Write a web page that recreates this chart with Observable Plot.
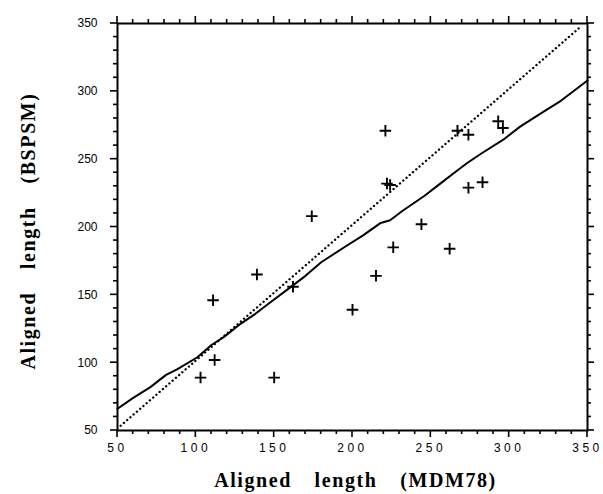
<!DOCTYPE html>
<html><head><meta charset="utf-8">
<script src="https://cdn.jsdelivr.net/npm/d3@7"></script>
<script src="https://cdn.jsdelivr.net/npm/@observablehq/plot@0.6"></script>
<style>body{margin:0;background:#fff}</style>
</head><body><div id="chart"></div>
<script>
// Scatter data: aligned length MDM78 (x) vs BSPSM (y)
const mdm78 = [103, 111, 112, 139, 150, 162, 174, 200, 215, 221, 222, 224, 226, 244, 262, 267, 274, 274, 283, 293, 296];
const bspsm = [89, 146, 102, 165, 89, 156, 208, 139, 164, 271, 232, 231, 185, 202, 184, 271, 268, 229, 233, 278, 273];

// Solid fitted curve
const fitX = [50, 60, 71, 81, 88, 101, 110, 118, 129, 138, 147, 162, 170, 180, 196, 207, 218, 224, 232, 246, 256, 265, 273, 282, 297, 307, 322, 333, 350];
const fitY = [66, 74, 82, 91, 95, 104, 113, 119, 129, 136, 144, 157, 164, 174, 186, 194, 203, 205, 212, 223, 232, 240, 247, 254, 265, 274, 285, 293, 308];

// Dotted diagonal line
const diagX = [52, 346];
const diagY = [53.5, 348];

// Ticks
const majorTicks = [50, 100, 150, 200, 250, 300, 350];
const minorTicks = [60, 70, 80, 90, 110, 120, 130, 140, 160, 170, 180, 190, 210, 220, 230, 240, 260, 270, 280, 290, 310, 320, 330, 340];

const xTitle = ["Aligned length (MDM78)"];
const yTitle = ["Aligned length (BSPSM)"];

const pts = mdm78.map((x, i) => ({x, y: bspsm[i]}));
const fit = fitX.map((x, i) => ({x, y: fitY[i]}));
const diag = diagX.map((x, i) => ({x, y: diagY[i]}));

const serif = "'Liberation Serif', 'Times New Roman', serif";
const MAJ = 7, MIN = 4;

const chart = Plot.plot({
  width: 603,
  height: 494,
  marginLeft: 117,
  marginRight: 16,
  marginTop: 23,
  marginBottom: 64,
  x: {domain: [50, 350]},
  y: {domain: [50, 350]},
  style: {fontFamily: "'Liberation Sans', Arial, sans-serif", fontSize: "12px", color: "#000", background: "#fff"},
  marks: [
    Plot.axisX({anchor: "bottom", ticks: majorTicks, tickSize: 0, tickPadding: 13, label: null, fontSize: 12}),
    Plot.axisY({anchor: "left", ticks: majorTicks, tickSize: 0, tickPadding: 20, label: null, fontSize: 12}),
    Plot.frame({stroke: "#000", strokeWidth: 2}),
    Plot.line(diag, {x: "x", y: "y", stroke: "#000", strokeWidth: 2.3, strokeLinecap: "round", strokeDasharray: "0.1 4.2"}),
    Plot.line(fit, {x: "x", y: "y", stroke: "#000", strokeWidth: 2}),
    Plot.dot(pts, {x: "x", y: "y", symbol: "plus", r: 3.8, stroke: "#000", strokeWidth: 1.9}),
    Plot.text(xTitle, {text: d => d, frameAnchor: "bottom", dy: 56, dx: 3, textAnchor: "middle", lineAnchor: "bottom",
      fontFamily: serif, fontWeight: "bold", fontSize: 20, fill: "#000"}),
    Plot.text(yTitle, {text: d => d, frameAnchor: "left", dx: -83, dy: 4, rotate: -90, textAnchor: "middle", lineAnchor: "bottom",
      fontFamily: serif, fontWeight: "bold", fontSize: 20, fill: "#000"})
  ]
});

const svg = d3.select(chart);
svg.selectAll("text")
  .filter(function () { return xTitle.includes(this.textContent) || yTitle.includes(this.textContent); })
  .style("letter-spacing", "1.6px").style("word-spacing", "16px");
svg.selectAll('g[aria-label="x-axis tick label"] text').style("letter-spacing", "3.5px");

// Outward ticks on all four sides, positioned with Plot's own scales
const sx = chart.scale("x"), sy = chart.scale("y");
const [x0, x1] = sx.range, [y0, y1] = sy.range; // y0 = bottom, y1 = top
const tg = svg.append("g").attr("stroke", "#000").attr("stroke-width", 1.6).attr("fill", "none");
const addTicks = (vals, len) => {
  vals.forEach(v => {
    const px = sx.apply(v), py = sy.apply(v);
    tg.append("line").attr("x1", px).attr("x2", px).attr("y1", y0).attr("y2", y0 + len);
    tg.append("line").attr("x1", px).attr("x2", px).attr("y1", y1).attr("y2", y1 - len);
    tg.append("line").attr("y1", py).attr("y2", py).attr("x1", x0).attr("x2", x0 - len);
    tg.append("line").attr("y1", py).attr("y2", py).attr("x1", x1).attr("x2", x1 + len);
  });
};
addTicks(majorTicks, MAJ);
addTicks(minorTicks, MIN);
document.getElementById("chart").appendChild(chart);
</script>
</body></html>
